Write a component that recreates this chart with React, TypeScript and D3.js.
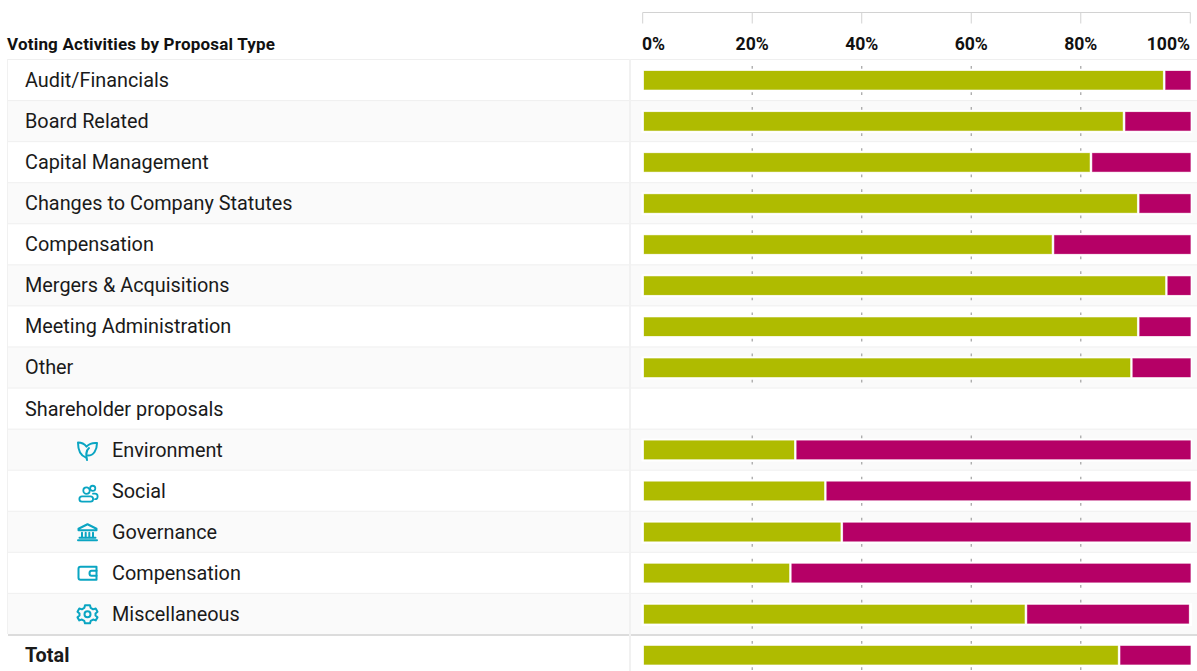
import React from "react";
import * as d3 from "d3";

const WIDTH = 1197;
const HEIGHT = 671;

const categories = [
  "Audit/Financials",
  "Board Related",
  "Capital Management",
  "Changes to Company Statutes",
  "Compensation",
  "Mergers & Acquisitions",
  "Meeting Administration",
  "Other",
  "Shareholder proposals",
  "Environment",
  "Social",
  "Governance",
  "Compensation",
  "Miscellaneous",
  "Total",
];
const forValues: (number | null)[] = [94.95, 87.6, 81.55, 90.2, 74.6, 95.35, 90.2, 88.95, null, 27.45, 32.95, 35.95, 26.55, 69.65, 86.7];
const againstValues: (number | null)[] = [5.05, 12.4, 18.45, 9.8, 25.4, 4.65, 9.8, 11.05, null, 72.55, 67.05, 64.05, 73.45, 30.05, 13.3];
const axisTicks = [0, 20, 40, 60, 80, 100];
const iconNames = ["leaf", "people", "bank", "wallet", "gear"];

const FOR_COLOR = "#afbb00";
const AGAINST_COLOR = "#b50066";
const ICON_COLOR = "#0aa5c2";
const SEGMENT_GAP = 2.6;

// Bars and axis sit about a pixel apart, so each has its own range.
const x = d3.scaleLinear().domain([0, 100]).range([644, 1190.5]);
const tickX = d3.scaleLinear().domain([0, 100]).range([642.7, 1190.3]);
const y = d3.scaleBand<number>().domain(d3.range(categories.length)).range([60, 676]);

function Icon({ name, cx, cy }: { name: string; cx: number; cy: number }) {
  const common = { fill: "none", stroke: ICON_COLOR, strokeWidth: 2, strokeLinecap: "round" as const, strokeLinejoin: "round" as const };
  return (
    <g transform={`translate(${cx},${cy})`} {...common}>
      {name === "leaf" && (
        <>
          <path d="M-1.5,7.5 C-6,6 -9.5,1 -9.5,-7.5 C-6,-7.5 -3,-6 -1,-3.5 C1.5,-6 5,-7.5 9.5,-7 C9.5,0 6,5.5 0.5,5.5" />
          <path d="M-0.5,10 C-1.5,5 -2,1 1.5,-2" />
        </>
      )}
      {name === "people" && (
        <g strokeWidth={1.8}>
          <circle cx={-1} cy={-0.5} r={3.2} />
          <circle cx={5.2} cy={-2.8} r={2.6} />
          <path d="M-5.5,10.5 L3,10.5 C6.5,10.5 6.5,5.2 3,5.2 L-5.5,5.2 C-9,5.2 -9,10.5 -5.5,10.5 Z" />
          <path d="M5.5,2.5 L7.5,2.5 C11,2.5 11,8 7.5,8" />
        </g>
      )}
      {name === "bank" && (
        <>
          <path d="M0,-8 L9,-3.5 L9,-2 L-9,-2 L-9,-3.5 Z" />
          <path d="M-5.5,0.5 L-5.5,5 M-1.8,0.5 L-1.8,5 M1.8,0.5 L1.8,5 M5.5,0.5 L5.5,5" />
          <path d="M-8,5.5 L8,5.5 M-9.5,8 L9.5,8" />
        </>
      )}
      {name === "wallet" && (
        <>
          <path d="M-7,-6.5 L9,-6.5 L9,6.5 L-7,6.5 Q-9,6.5 -9,4.5 L-9,-4.5 Q-9,-6.5 -7,-6.5 Z" />
          <path d="M9,-2.5 L4,-2.5 Q2,-2.5 2,0 Q2,2.5 4,2.5 L9,2.5" />
        </>
      )}
      {name === "gear" && (
        <>
          <circle r={3} />
          <path d="M-2.5,-9 L2.5,-9 L3.2,-6.4 L5.6,-5 L8.2,-5.8 L10,-2.6 L8,-0.8 L8,1.2 L10,3 L8.2,6 L5.6,5.2 L3.2,6.6 L2.5,9 L-2.5,9 L-3.2,6.6 L-5.6,5.2 L-8.2,6 L-10,3 L-8,1.2 L-8,-0.8 L-10,-2.6 L-8.2,-5.8 L-5.6,-5 L-3.2,-6.4 Z" />
        </>
      )}
    </g>
  );
}

export default function App() {
  const innerTicks = axisTicks.slice(1, -1);
  return (
    <svg
      width={WIDTH}
      height={HEIGHT}
      viewBox={`0 0 ${WIDTH} ${HEIGHT}`}
      style={{ position: "fixed", left: 0, top: 0, background: "#fff", fontFamily: "Roboto, sans-serif" }}
    >
      {/* Header: title and top axis */}
      <text x={7} y={50} fontSize={17} fontWeight={700} fill="#111" textLength={268} lengthAdjust="spacing">
        Voting Activities by Proposal Type
      </text>
      <path d={`M${tickX(0)},23.5 V12.5 H${tickX(100)} V23.5`} fill="none" stroke="#d2d2d2" strokeWidth={1} />
      {innerTicks.map((t) => (
        <line key={t} x1={tickX(t)} x2={tickX(t)} y1={12.5} y2={23.5} stroke="#d2d2d2" />
      ))}
      {axisTicks.map((t) => (
        <text
          key={t}
          x={t === 0 ? 642 : t === 100 ? 1190 : tickX(t)}
          y={49.5}
          fontSize={17.6}
          fontWeight={700}
          fill="#111"
          textAnchor={t === 0 ? "start" : t === 100 ? "end" : "middle"}
        >
          {t}%
        </text>
      ))}

      {/* Table rows */}
      {categories.map((label, i) => {
        const top = y(i)!;
        const h = y.bandwidth();
        const indented = i >= 9 && i <= 13;
        const isTotal = i === categories.length - 1;
        const f = forValues[i];
        const a = againstValues[i];
        return (
          <g key={i}>
            <rect x={8} y={top - 0.5} width={WIDTH - 8} height={h} fill={i % 2 === 1 ? "#fafafa" : "#fff"} />
            {isTotal ? (
              <line x1={8} x2={WIDTH} y1={top} y2={top} stroke="#dcdcdc" strokeWidth={2} />
            ) : (
              <line x1={8} x2={WIDTH} y1={top - 0.5} y2={top - 0.5} stroke="#efefef" strokeWidth={1} />
            )}
            <text x={indented ? 112 : 25} y={top + 27} fontSize={19.85} fontWeight={isTotal ? 700 : 400} fill="#1a1a1a">
              {label}
            </text>
            {indented && <Icon name={iconNames[i - 9]} cx={87.5} cy={top + 20.5} />}
            {f !== null && a !== null && (
              <>
                <rect x={641.5} y={top + 9} width={550.5} height={23} fill="#fff" />
                {innerTicks.map((t) => (
                  <g key={t} stroke="#a0a0a0" strokeWidth={1.2}>
                    <line x1={tickX(t)} x2={tickX(t)} y1={top + 6} y2={top + 8.7} />
                    <line x1={tickX(t)} x2={tickX(t)} y1={top + 32.3} y2={top + 35} />
                  </g>
                ))}
                <rect
                  x={x(0)}
                  y={top + 11}
                  width={x(f) - x(0)}
                  height={18.6}
                  fill={FOR_COLOR}
                  stroke={FOR_COLOR}
                  strokeOpacity={0.35}
                  strokeWidth={0.8}
                />
                <rect
                  x={x(f) + SEGMENT_GAP}
                  y={top + 11}
                  width={x(f + a) - x(f) - SEGMENT_GAP}
                  height={18.6}
                  fill={AGAINST_COLOR}
                  stroke={AGAINST_COLOR}
                  strokeOpacity={0.35}
                  strokeWidth={0.8}
                />
              </>
            )}
          </g>
        );
      })}
      <line x1={630} x2={630} y1={59} y2={HEIGHT} stroke="#f1f1f1" strokeWidth={2} />
      <line x1={7.5} x2={7.5} y1={59} y2={634} stroke="#f1f1f1" strokeWidth={1} />
    </svg>
  );
}
